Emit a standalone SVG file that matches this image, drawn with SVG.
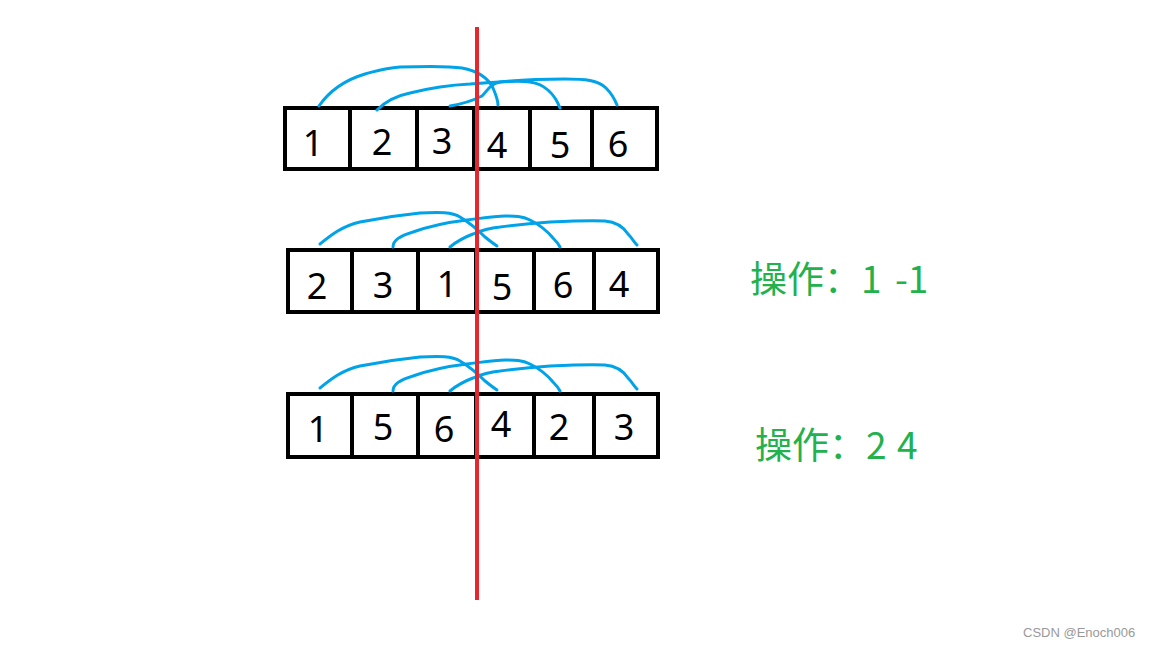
<svg xmlns="http://www.w3.org/2000/svg" width="1152" height="648" viewBox="0 0 1152 648">
<style>
.cell{fill:#fff;stroke:#000;stroke-width:4}
.d{font-family:"Noto Sans","Liberation Sans",sans-serif;font-size:36px;fill:#000;text-anchor:middle}
.arc{fill:none;stroke:#00A2E8;stroke-width:3;stroke-linecap:round;stroke-linejoin:round}
.op{font-family:"Noto Sans CJK SC","Noto Sans",sans-serif;font-size:37px;fill:#22B14C}
.wm{font-family:"Liberation Sans",sans-serif;font-size:13px;fill:#999}
</style>
<rect width="1152" height="648" fill="#fff"/>
<g id="row1">
<g id="r1c1"><rect class="cell" x="285" y="108" width="65" height="61"/><text class="d" x="313" y="156">1</text></g>
<g id="r1c2"><rect class="cell" x="350" y="108" width="67" height="61"/><text class="d" x="382" y="155">2</text></g>
<g id="r1c3"><rect class="cell" x="417" y="108" width="57" height="61"/><text class="d" x="442" y="154">3</text></g>
<g id="r1c4"><rect class="cell" x="474" y="108" width="56" height="61"/><text class="d" x="497" y="158">4</text></g>
<g id="r1c5"><rect class="cell" x="530" y="108" width="62" height="61"/><text class="d" x="560" y="158">5</text></g>
<g id="r1c6"><rect class="cell" x="592" y="108" width="65" height="61"/><text class="d" x="618" y="157">6</text></g>
</g>
<g id="row2">
<g id="r2c1"><rect class="cell" x="288" y="250" width="64" height="62"/><text class="d" x="317" y="299">2</text></g>
<g id="r2c2"><rect class="cell" x="352" y="250" width="66" height="62"/><text class="d" x="383" y="298">3</text></g>
<g id="r2c3"><rect class="cell" x="418" y="250" width="58" height="62"/><text class="d" x="447" y="297">1</text></g>
<g id="r2c4"><rect class="cell" x="476" y="250" width="58" height="62"/><text class="d" x="502" y="300">5</text></g>
<g id="r2c5"><rect class="cell" x="534" y="250" width="60" height="62"/><text class="d" x="563" y="298">6</text></g>
<g id="r2c6"><rect class="cell" x="594" y="250" width="64" height="62"/><text class="d" x="619" y="297">4</text></g>
</g>
<g id="row3">
<g id="r3c1"><rect class="cell" x="288" y="394" width="64" height="63"/><text class="d" x="318" y="442">1</text></g>
<g id="r3c2"><rect class="cell" x="352" y="394" width="66" height="63"/><text class="d" x="383" y="440">5</text></g>
<g id="r3c3"><rect class="cell" x="418" y="394" width="58" height="63"/><text class="d" x="444" y="442">6</text></g>
<g id="r3c4"><rect class="cell" x="476" y="394" width="58" height="63"/><text class="d" x="501" y="437">4</text></g>
<g id="r3c5"><rect class="cell" x="534" y="394" width="60" height="63"/><text class="d" x="559" y="440">2</text></g>
<g id="r3c6"><rect class="cell" x="594" y="394" width="64" height="63"/><text class="d" x="624" y="440">3</text></g>
</g>
<g id="connectors">
<path class="arc" d="M319,106 C330,90 345,80 365,74 C380,70 385,68 400,67 C430,66 450,66 462,68 C478,71 488,78 493,88 C496,95 498,100 498,105"/>
<path class="arc" d="M377,110 C385,102 395,96 410,93 C430,88 450,85 470,84 C495,82 515,80 530,82 C545,84 555,95 560,108"/>
<path class="arc" d="M450,106 C462,104 472,101 482,96 C488,90 490,84 500,82 C520,80 545,79 565,79 C585,79 598,80 606,88 C612,94 615,100 617,105"/>
<path class="arc" d="M320,244 C330,236 342,226 360,222 C380,218 400,215 420,213 C440,212 452,212 460,217 C470,223 478,230 485,237 C490,241 494,244 497,246"/>
<path class="arc" d="M393,247 C393,240 400,236 413,232 C430,226 450,222 467,220 C483,218 495,216 505,216 C515,216 522,216 530,220 C542,226 548,232 553,238 C557,242 559,245 560,247"/>
<path class="arc" d="M450,247 C456,242 465,237 473,234 C482,230 490,228 500,227 C515,225 535,223 550,222 C570,221 590,220 605,221 C618,222 624,228 628,234 C632,238 634,242 637,245"/>
<path class="arc" d="M320,388 C330,380 342,370 360,366 C380,362 400,359 420,357 C440,356 452,356 460,361 C470,367 478,374 485,381 C490,385 494,388 497,390"/>
<path class="arc" d="M393,391 C393,384 400,380 413,376 C430,370 450,366 467,364 C483,362 495,360 505,360 C515,360 522,360 530,364 C542,370 548,376 553,382 C557,386 559,389 560,391"/>
<path class="arc" d="M450,391 C456,386 465,381 473,378 C482,374 490,372 500,371 C515,369 535,367 550,366 C570,365 590,364 605,365 C618,366 624,372 628,378 C632,382 634,386 637,389"/>
</g>
<line id="divider" x1="477" y1="27" x2="477" y2="600" stroke="#E8262D" stroke-width="4"/>
<text class="op" x="750" y="293">操作：<tspan x="861">1</tspan><tspan x="895">-1</tspan></text>
<text class="op" x="755" y="459">操作：<tspan x="866">2</tspan><tspan x="897">4</tspan></text>
<text class="wm" x="1023" y="637">CSDN @Enoch006</text>
</svg>
